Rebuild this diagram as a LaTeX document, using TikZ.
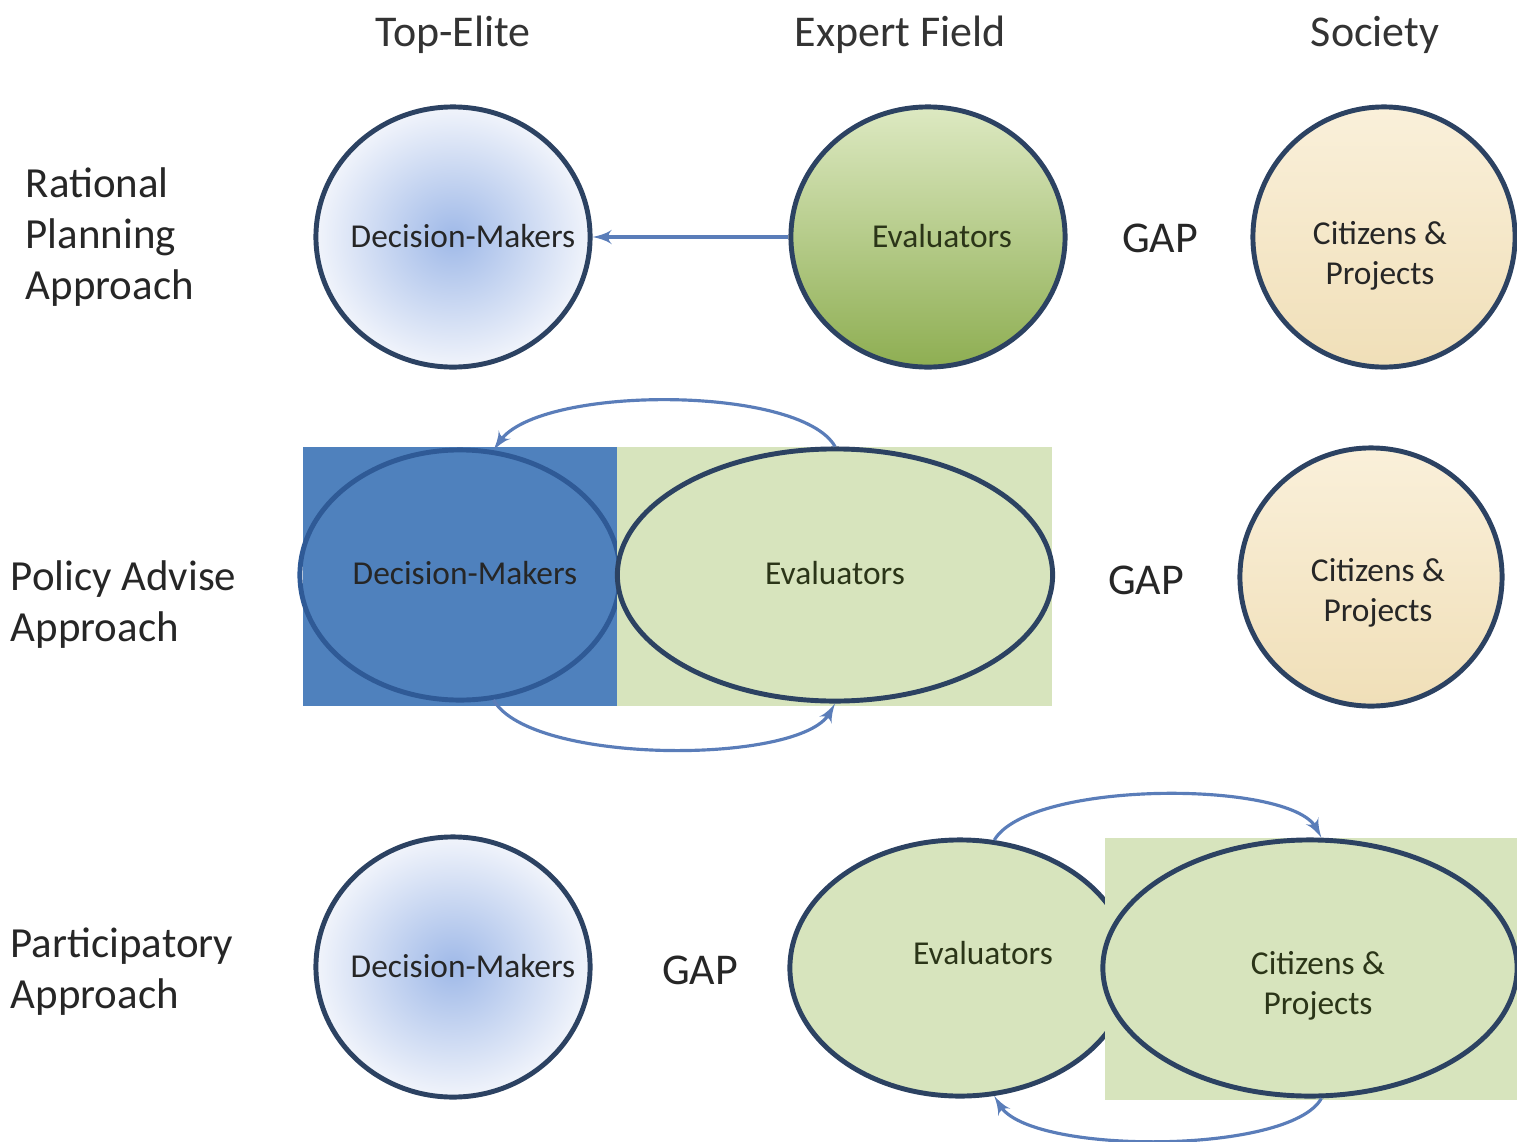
\documentclass[tikz,border=0pt]{standalone}
\usepackage{xcolor}
\usepackage{fontspec}
\setmainfont{Carlito}
\usepackage{tikz}
\usetikzlibrary{arrows,shapes.geometric}

\definecolor{ring}{HTML}{2C4262}
\definecolor{ringblue}{HTML}{2F5A96}
\definecolor{link}{HTML}{5A7DB9}
\definecolor{dmblue}{HTML}{4F81BD}
\definecolor{pale}{HTML}{D7E4BD}
\definecolor{dmcore}{HTML}{9FB9E8}
\definecolor{dmrim}{HTML}{F1F4FB}
\definecolor{evtop}{HTML}{DDE9C2}
\definecolor{evbot}{HTML}{8EAE52}
\definecolor{cttop}{HTML}{FAF0DA}
\definecolor{ctbot}{HTML}{F0DFB8}
\definecolor{evtext}{HTML}{2B3518}

\begin{document}
\begin{tikzpicture}[x=0.01cm,y=-0.01cm,
	head/.style={font=\fontsize{12.5}{15}\selectfont,text=black!80},
	rowlab/.style={anchor=west,align=left,inner sep=0pt,font=\fontsize{12.2}{14.5}\selectfont,text=black!85},
	gap/.style={font=\fontsize{12.5}{15}\selectfont,text=black!85},
	blob/.style={ellipse,draw=ring,line width=1.4pt,inner sep=0pt},
	txt/.style={align=center,inner sep=0pt,font=\fontsize{9.5}{11.5}\selectfont,text=black!85},
	dmshade/.style={inner color=dmcore,outer color=dmrim},
	evshade/.style={top color=evtop,bottom color=evbot},
	ctshade/.style={top color=cttop,bottom color=ctbot},
	flow/.style={->,>=latex',draw=link,line width=0.9pt}]
	
	\useasboundingbox (0,0) rectangle (1517,1142);
	
	% Colunas
	\draw (453,35) node[head] (top) {Top-Elite};
	\draw (900,35) node[head] (expert) {Expert Field};
	\draw (1375,35) node[head] (society) {Society};
	
	% Linhas
	\draw (25,237) node[rowlab] (rational) {Rational\\Planning\\Approach};
	\draw (10,605) node[rowlab] (policy) {Policy Advise\\Approach};
	\draw (10,972) node[rowlab] (particip) {Participatory\\Approach};
	
	% Linha 1
	\node[blob,dmshade,minimum width=2.74cm,minimum height=2.6cm] (dm1) at (453,237) {};
	\node[blob,evshade,minimum width=2.74cm,minimum height=2.6cm] (ev1) at (928,237) {};
	\node[blob,ctshade,minimum width=2.62cm,minimum height=2.6cm] (ct1) at (1384,237) {};
	\draw (463,236) node[txt] (dm1t) {Decision-Makers};
	\draw (942,236) node[txt,text=evtext] (ev1t) {Evaluators};
	\draw (1380,256) node[txt] (ct1t) {Citizens \&\\Projects};
	\node[gap] (gap1) at (1160,238) {GAP};
	\draw[flow] (ev1) -- (dm1);
	
	% Linha 2
	\fill[dmblue] (303,447) rectangle (617,706);
	\node[blob,draw=ringblue,minimum width=3.2cm,minimum height=2.5cm] (dm2) at (460,575) {};
	\fill[pale] (617,447) rectangle (1052,706);
	\node[blob,fill=pale,minimum width=4.35cm,minimum height=2.52cm] (ev2) at (835,575) {};
	\node[blob,ctshade,minimum width=2.62cm,minimum height=2.58cm] (ct2) at (1371,577) {};
	\draw (465,573) node[txt] (dm2t) {Decision-Makers};
	\draw (835,573) node[txt,text=evtext] (ev2t) {Evaluators};
	\draw (1378,593) node[txt] (ct2t) {Citizens \&\\Projects};
	\node[gap] (gap2) at (1146,580) {GAP};
	
	\draw[flow] (ev2.north) .. controls (800,385) and (540,385) .. (dm2.75);
	\draw[flow] (dm2.-75) .. controls (530,765) and (800,765) .. (ev2.south);
	
	% Linha 3
	\node[blob,dmshade,minimum width=2.74cm,minimum height=2.6cm] (dm3) at (453,967) {};
	\draw (463,966) node[txt] (dm3t) {Decision-Makers};
	\node[gap] (gap3) at (700,970) {GAP};
	\node[blob,fill=pale,minimum width=3.4cm,minimum height=2.56cm] (ev3) at (960,968) {};
	\fill[pale] (1105,838) rectangle (1517,1100);
	\node[blob,fill=pale,minimum width=4.14cm,minimum height=2.56cm] (ct3) at (1310,968) {};
	\draw (983,953) node[txt,text=evtext] (ev3t) {Evaluators};
	\draw (1318,986) node[txt,text=evtext] (ct3t) {Citizens \&\\Projects};
	
	\draw[flow] (ev3.75) .. controls (1030,780) and (1290,780) .. (ct3.85);
	\draw[flow] (ct3.-85) .. controls (1290,1155) and (1030,1155) .. (ev3.-75);
\end{tikzpicture}
\end{document}
